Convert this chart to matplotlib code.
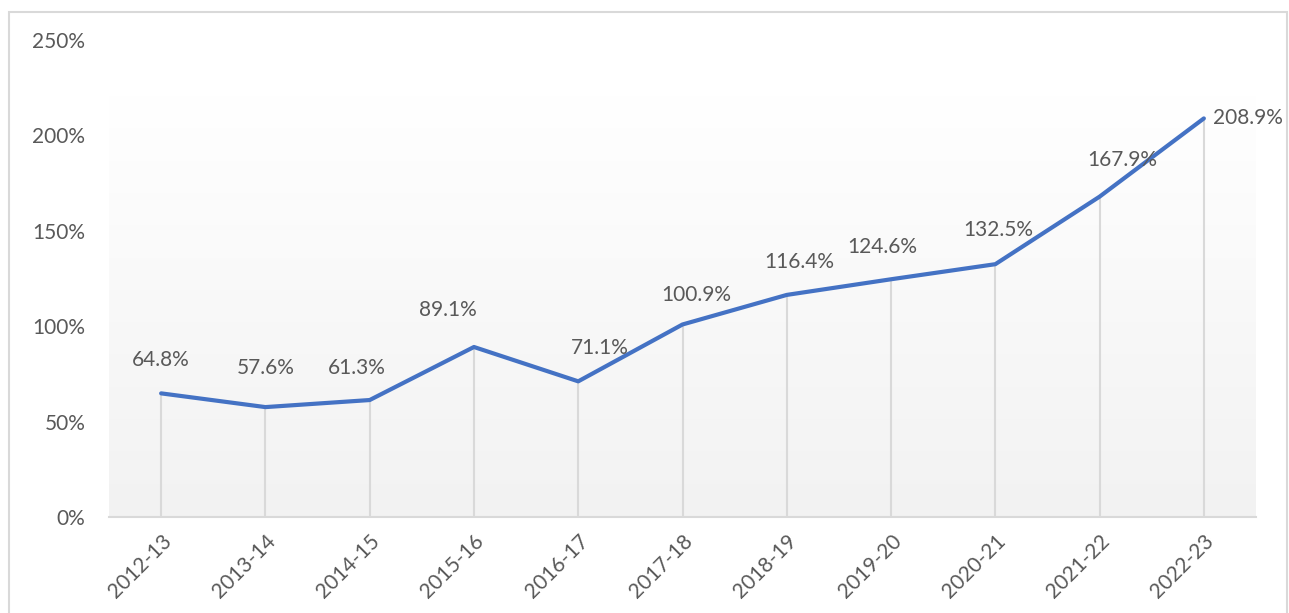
import numpy as np
import matplotlib.pyplot as plt
from matplotlib.colors import LinearSegmentedColormap
from matplotlib.patches import Rectangle
from matplotlib.ticker import FuncFormatter

# Data
years = ["2012-13", "2013-14", "2014-15", "2015-16", "2016-17", "2017-18",
         "2018-19", "2019-20", "2020-21", "2021-22", "2022-23"]
growth = [64.8, 57.6, 61.3, 89.1, 71.1, 100.9, 116.4, 124.6, 132.5, 167.9, 208.9]
y_ticks = [0, 50, 100, 150, 200, 250]

# label offsets in pixels (dx, dy) from the point
label_dx = [0, 0, -13, -26, 22, 14, 12, -9, 3, 23, 44]
label_dy = [33, 39, 32, 37, 33, 29, 33, 32, 34, 37, 0]

LINE = "#4472C4"
GRID = "#d9d9d9"
TEXT = "#595959"

plt.rcParams['font.family'] = ['Lato', 'DejaVu Sans']

fig = plt.figure(figsize=(12.89, 6.13), dpi=100)
ax = fig.add_axes([109 / 1289, 1 - 517 / 613, 1147 / 1289, 477 / 613])
ax.set_facecolor("none")

x = np.arange(len(years))

# gradient fill of the plot area (light grey at bottom, white at top)
grad = np.linspace(0.0, 1.0, 256).reshape(-1, 1)
cmap = LinearSegmentedColormap.from_list("g", ["#f2f2f2", "#ffffff"])
ax.imshow(grad, extent=[-0.5, len(years) - 0.5, 0, 221], aspect="auto",
          cmap=cmap, origin="lower", zorder=0)

# drop lines
ax.vlines(x, 0, growth, color=GRID, lw=1.5, zorder=1)
ax.plot(x, growth, color=LINE, lw=3, zorder=3, solid_capstyle="round")

for xi, v, dx, dy in zip(x, growth, label_dx, label_dy):
    ax.annotate(f"{v:.1f}%", (xi, v), xytext=(dx, dy), textcoords="offset pixels",
                ha="center", va="center", fontsize=15, color=TEXT, zorder=4)

ax.set_xlim(-0.5, len(years) - 0.5)
ax.set_ylim(0, 250)
ax.set_yticks(y_ticks)
ax.yaxis.set_major_formatter(FuncFormatter(lambda v, p: f"{v:.0f}%"))
ax.set_xticks(x)
ax.set_xticklabels(years, rotation=45, ha="right", va="top", rotation_mode="anchor")

for s in ["top", "right", "left"]:
    ax.spines[s].set_visible(False)
ax.spines["bottom"].set_color(GRID)
ax.spines["bottom"].set_linewidth(1.5)
ax.tick_params(axis="both", length=0, labelsize=15, labelcolor=TEXT)
ax.tick_params(axis="y", pad=17)
ax.tick_params(axis="x", pad=10)

# outer chart border
fig.patches.append(Rectangle((9 / 1289, -0.05), 1278 / 1289, 1 - 12 / 613 + 0.05,
                             transform=fig.transFigure, fill=False,
                             edgecolor=GRID, lw=1.5))

fig.savefig("out.png", dpi=100)
